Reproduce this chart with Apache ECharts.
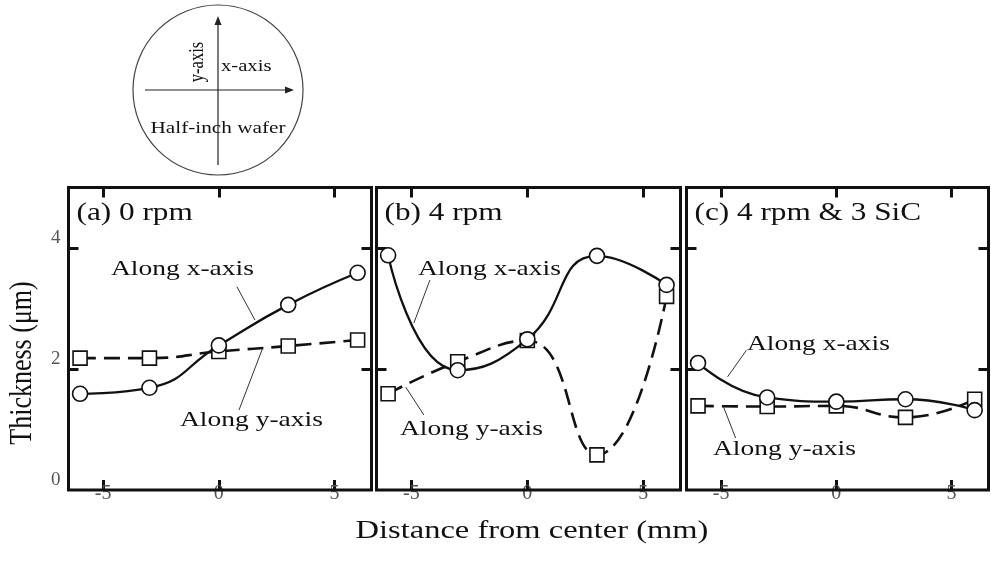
<!DOCTYPE html>
<html>
<head>
<meta charset="utf-8">
<script src="https://cdn.jsdelivr.net/npm/echarts@6/dist/echarts.min.js"></script>
<style>
  html, body { margin: 0; background: #fff; }
  #chart { width: 991px; height: 561px; }
</style>
</head>
<body>
<div id="chart"></div>
<script>
// values: film thickness (um) vs distance from wafer centre (mm)
const positions = [-6, -3, 0, 3, 6]
const rpm0AlongX = [1.59, 1.69, 2.39, 3.06, 3.59]
const rpm0AlongY = [2.18, 2.18, 2.29, 2.38, 2.48]
const rpm4AlongX = [3.88, 1.98, 2.49, 3.87, 3.39]
const rpm4AlongY = [1.59, 2.12, 2.47, 0.58, 3.20]
const sicAlongX = [2.10, 1.53, 1.46, 1.50, 1.32]
const sicAlongY = [1.39, 1.38, 1.39, 1.20, 1.50]

const xTickValues = [-5, 0, 5]
const yLabelValues = [0, 2, 4]
const yTickValues = [2, 4]
const panelNames = ['(a) 0 rpm', '(b) 4 rpm', '(c) 4 rpm & 3 SiC']

const SERIF = 'Liberation Serif'
const STRETCH = 1.25 // the scan is wider than it is tall, text included
const INK = '#111'

// frame of each panel + where the "Along ..." notes sit
const panels = [
  {
    left: 68.5, width: 303, alongX: rpm0AlongX, alongY: rpm0AlongY,
    noteX: [111, 269], noteY: [180, 420],
    leadX: [[0.78, 3.36], [1.56, 2.81]], leadY: [[1.90, 2.35], [0.87, 1.32]]
  },
  {
    left: 376.5, width: 304, alongX: rpm4AlongX, alongY: rpm4AlongY,
    noteX: [418, 269], noteY: [400, 429],
    leadX: [[-4.2, 3.47], [-4.89, 2.76]], leadY: [[-5.24, 1.70], [-4.46, 1.24]]
  },
  {
    left: 686.5, width: 302, alongX: sicAlongX, alongY: sicAlongY,
    noteX: [747, 344], noteY: [713, 449],
    leadX: [[-3.90, 2.31], [-4.72, 1.87]], leadY: [[-4.89, 1.37], [-4.37, 0.86]]
  }
]

const chart = echarts.init(document.getElementById('chart'))

const tickStyle = { inside: true, length: 10, lineStyle: { color: INK, width: 3 } }

function text(str, x, y, size, align, rotated) {
  return {
    type: 'text',
    x: x,
    y: y,
    rotation: rotated ? Math.PI / 2 : 0,
    scaleX: rotated ? 1 : STRETCH,
    scaleY: rotated ? STRETCH : 1,
    z: 10,
    style: {
      text: str,
      font: size + 'px ' + SERIF,
      fill: INK,
      textAlign: align,
      align: align,
      textVerticalAlign: 'middle',
      verticalAlign: 'middle'
    }
  }
}

function leader(seg) {
  return {
    silent: true,
    symbol: ['none', 'none'],
    label: { show: false },
    lineStyle: { color: '#333', width: 1, type: 'solid' },
    data: [[{ coord: seg[0] }, { coord: seg[1] }]]
  }
}

function curve(values, idx, dashed, seg) {
  return {
    type: 'line',
    name: dashed ? 'Along y-axis' : 'Along x-axis',
    xAxisIndex: idx * 2,
    yAxisIndex: idx * 2,
    data: positions.map((x, i) => [x, values[i]]),
    smooth: 0.5,
    symbol: dashed ? 'rect' : 'circle',
    symbolSize: dashed ? 14 : 15,
    showAllSymbol: true,
    z: dashed ? 2 : 3,
    itemStyle: { color: '#fff', borderColor: INK, borderWidth: 1.6 },
    lineStyle: { color: INK, width: dashed ? 2.6 : 2.3, type: dashed ? [16, 8] : 'solid' },
    markLine: leader(seg)
  }
}

const grids = []
const xAxes = []
const yAxes = []
const series = []
const graphics = []

panels.forEach((p, i) => {
  grids.push({
    left: p.left, top: 187.5, width: p.width, height: 302.5,
    show: true, borderColor: INK, borderWidth: 3, z: 3
  })
  ;['bottom', 'top'].forEach(pos => {
    xAxes.push({
      type: 'value', gridIndex: i, position: pos, min: -6.5, max: 6.6,
      axisLine: { show: false, onZero: false },
      splitLine: { show: false },
      axisTick: Object.assign({ customValues: xTickValues }, tickStyle),
      // the scan tucks these labels half under the frame
      axisLabel: {
        show: pos === 'bottom', customValues: xTickValues, margin: -6,
        fontFamily: SERIF, fontSize: 20, color: '#555'
      }
    })
  })
  ;['left', 'right'].forEach(pos => {
    yAxes.push({
      type: 'value', gridIndex: i, position: pos, min: 0, max: 5,
      axisLine: { show: false, onZero: false },
      splitLine: { show: false },
      axisTick: Object.assign({ customValues: yTickValues }, tickStyle),
      axisLabel: {
        show: i === 0 && pos === 'left', customValues: yLabelValues, margin: 8,
        verticalAlign: 'bottom', lineHeight: 20,
        fontFamily: SERIF, fontSize: 19, color: '#555'
      }
    })
  })
  series.push(curve(p.alongY, i, true, p.leadY))
  series.push(curve(p.alongX, i, false, p.leadX))

  graphics.push(text(panelNames[i], p.left + 8, 213, 25, 'left'))
  graphics.push(text('Along x-axis', p.noteX[0], p.noteX[1], 22, 'left'))
  graphics.push(text('Along y-axis', p.noteY[0], p.noteY[1], 22, 'left'))
})

// axis titles
graphics.push(text('Distance from center (mm)', 532, 531, 26, 'center'))
graphics.push(text('Thickness (\u03bcm)', 22, 363, 26, 'center', true))

// wafer sketch in the top left corner
graphics.push({
  type: 'circle', shape: { cx: 218, cy: 90, r: 85 },
  style: { fill: 'none', stroke: '#444', lineWidth: 1.2 }
})
graphics.push({ type: 'line', shape: { x1: 145, y1: 90, x2: 288, y2: 90 }, style: { stroke: '#222', lineWidth: 1.2 } })
graphics.push({ type: 'polygon', shape: { points: [[294, 90], [285, 86.5], [285, 93.5]] }, style: { fill: '#222' } })
graphics.push({ type: 'line', shape: { x1: 218, y1: 165, x2: 218, y2: 22 }, style: { stroke: '#222', lineWidth: 1.2 } })
graphics.push({ type: 'polygon', shape: { points: [[218, 16], [214.5, 25], [221.5, 25]] }, style: { fill: '#222' } })
graphics.push(text('x-axis', 221, 67, 16.5, 'left'))
graphics.push(text('y-axis', 198, 62, 16.5, 'center', true))
graphics.push(text('Half-inch wafer', 218, 129, 17, 'center'))

chart.setOption({
  animation: false,
  backgroundColor: '#fff',
  grid: grids,
  xAxis: xAxes,
  yAxis: yAxes,
  series: series,
  graphic: { elements: graphics }
})
</script>
</body>
</html>
